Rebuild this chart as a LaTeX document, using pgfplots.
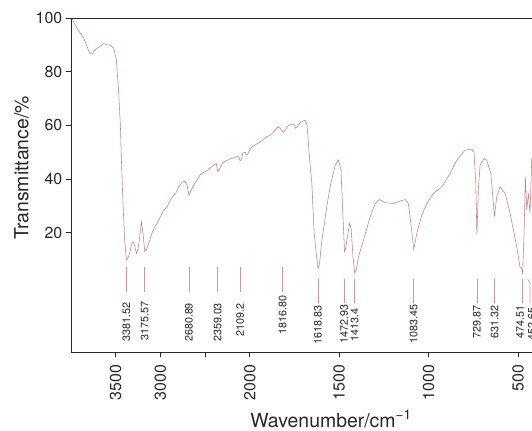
\documentclass[border=0pt]{standalone}
\usepackage{pgfplots}
\pgfplotsset{compat=1.18}
\usepackage{fontspec}
\setmainfont{TeX Gyre Heros}
\definecolor{spec}{RGB}{198,128,128}
\definecolor{lbl}{RGB}{212,150,150}
\definecolor{frame}{RGB}{40,40,40}
\pgfplotstableread{
x y
3990 99.8
3931 96.1
3857 92.4
3790 86.8
3763 86.6
3735 88.0
3707 88.7
3670 89.6
3634 90.5
3600 90.0
3559 89.9
3522 88.7
3492 84.3
3466 71.9
3447 59.5
3436 47.1
3421 33.4
3402 18.5
3385 11.5
3376 9.8
3360 10.8
3340 13.0
3316 16.6
3300 16.3
3291 15.5
3268 12.3
3250 14.0
3235 17.5
3212 24.1
3195 20.0
3175 13.0
3160 13.5
3131 16.0
3093 20.0
3060 22.5
3037 23.5
3000 26.0
2963 28.5
2925 29.7
2888 32.2
2851 34.0
2830 34.5
2796 37.1
2760 38.8
2732 39.3
2702 37.8
2680 34.0
2660 35.5
2628 37.8
2590 39.6
2553 41.8
2478 43.2
2404 45.2
2374 45.8
2359 42.8
2349 43.2
2311 45.5
2293 46.4
2218 47.5
2150 48.3
2125 48.4
2109 46.9
2098 47.0
2076 49.8
2050 50.0
2039 48.9
2025 49.2
1997 51.2
1988 52.0
1941 53.9
1904 55.8
1885 56.4
1839 59.5
1811 57.4
1783 60.1
1755 60.5
1743 58.9
1718 61.0
1699 61.7
1690 61.9
1680 60.1
1662 44.6
1653 38.4
1640 19.8
1628 12.0
1618 6.7
1610 8.5
1597 17.3
1588 21.0
1569 30.0
1550 37.5
1522 45.2
1504 47.1
1490 43.4
1479 26.0
1470 12.9
1463 14.5
1457 17.3
1442 23.5
1433 21.6
1423 11.1
1413 4.9
1405 6.0
1392 11.1
1364 17.3
1327 26.0
1299 30.9
1275 32.4
1243 31.2
1197 30.9
1159 31.8
1131 32.4
1113 30.9
1097 22.2
1083 13.8
1066 19.8
1038 26.6
1010 30.9
973 34.7
926 37.1
880 42.1
842 47.1
796 50.8
759 51.1
746 50.2
736 38.4
730 19.1
721 37.1
712 45.2
690 47.7
675 47.1
652 42.1
641 33.4
632 26.0
619 33.4
600 37.1
572 34.7
544 27.2
507 14.8
489 7.3
479 6.4
474 4.9
466 19.8
459 40.9
451 28.5
442 34.7
433 27.2
423 47.7
}\spectrum
\pgfplotstableread{
x y lab
3381.52 -13.3 3381.52
3175.57 -12.9 3175.57
2680.89 -13.4 2680.89
2359.03 -13.4 2359.03
2109.2 -12.5 2109.2
1816.80 -10.7 1816.80
1618.83 -14.4 1618.83
1472.93 -14.0 1472.93
1413.4 -14.2 1413.4
1083.45 -14.0 1083.45
729.87 -13.4 729.87
631.32 -13.4 631.32
488.0 -13.4 474.51
423.0 -14.0 452.65
}\peaklabels
\begin{document}
\begin{tikzpicture}
\path[use as bounding box, clip] (-71bp,-79bp) rectangle (461bp,352bp);
\begin{axis}[
  at={(0,0)}, anchor=south west,
  scale only axis, width=461bp, height=334bp,
  x dir=reverse, xmin=421.8, xmax=3000, ymin=-24.4, ymax=100,
  x filter/.expression={x>2000 ? 2000+(x-2000)/2 : x},
  axis line style={draw=none},
  clip mode=individual,
  tick align=outside, major tick length=4.5bp,
  tick style={frame, line width=0.7bp},
  xtick pos=bottom, ytick pos=left,
  xtick={500,1000,1500,2000,2250,2500,2750},
  xticklabels={500,1000,1500,2000,{},3000,3500},
  ytick={20,40,60,80,100},
  /pgf/number format/assume math mode=true,
  xticklabel style={rotate=90, anchor=east, inner sep=0pt, font=\fontsize{16}{18}\selectfont, text=frame},
  xticklabel shift=8bp,
  yticklabel style={inner sep=0pt, font=\fontsize{16}{18}\selectfont, text=frame},
  yticklabel shift=4bp,
  xlabel={Wavenumber/cm\textsuperscript{−1}},
  ylabel={Transmittance/\%},
  xlabel style={at={(axis description cs:0.564,-0.2246)}, anchor=base, font=\fontsize{19.5}{22}\selectfont, text=frame},
  ylabel style={at={(axis description cs:-0.1074,0.551)}, anchor=center, font=\fontsize{19.5}{22}\selectfont, text=frame},
]
\addplot[spec, line width=0.55bp, mark=none] table[x=x, y=y] {\spectrum};
\addplot[lbl, line width=0.6bp] coordinates {(3381.52,7.3) (3381.52,-2.0)};
\addplot[lbl, line width=0.6bp] coordinates {(3175.57,7.3) (3175.57,-2.0)};
\addplot[lbl, line width=0.6bp] coordinates {(2680.89,7.3) (2680.89,-2.0)};
\addplot[lbl, line width=0.6bp] coordinates {(2359.03,7.3) (2359.03,-2.0)};
\addplot[lbl, line width=0.6bp] coordinates {(2109.2,7.3) (2109.2,-2.0)};
\addplot[lbl, line width=0.6bp] coordinates {(1816.80,7.3) (1816.80,-2.0)};
\addplot[lbl, line width=0.6bp] coordinates {(1618.83,2.8) (1618.83,-6.3)};
\addplot[lbl, line width=0.6bp] coordinates {(1472.93,2.8) (1472.93,-6.3)};
\addplot[lbl, line width=0.6bp] coordinates {(1413.4,2.8) (1413.4,-6.3)};
\addplot[lbl, line width=0.6bp] coordinates {(1083.45,2.8) (1083.45,-6.3)};
\addplot[lbl, line width=0.6bp] coordinates {(729.87,2.8) (729.87,-6.3)};
\addplot[lbl, line width=0.6bp] coordinates {(631.32,2.8) (631.32,-6.3)};
\addplot[lbl, line width=0.6bp] coordinates {(474.51,2.8) (474.51,-6.3)};
\addplot[lbl, line width=0.6bp] coordinates {(445.7,2.8) (432.8,1.15) (432.8,-6.3)};
\addplot[draw=none, mark=none, nodes near coords, point meta=explicit symbolic,
  nodes near coords style={rotate=90, anchor=center, inner sep=0pt,
  font=\fontsize{10.8}{12}\selectfont, text=frame}]
  table[x=x, y=y, meta=lab] {\peaklabels};
\draw[frame, line width=0.9bp] (rel axis cs:1,1) -- (rel axis cs:0,1) -- (rel axis cs:0,0) -- (rel axis cs:1,0);
\end{axis}
\end{tikzpicture}
\end{document}
